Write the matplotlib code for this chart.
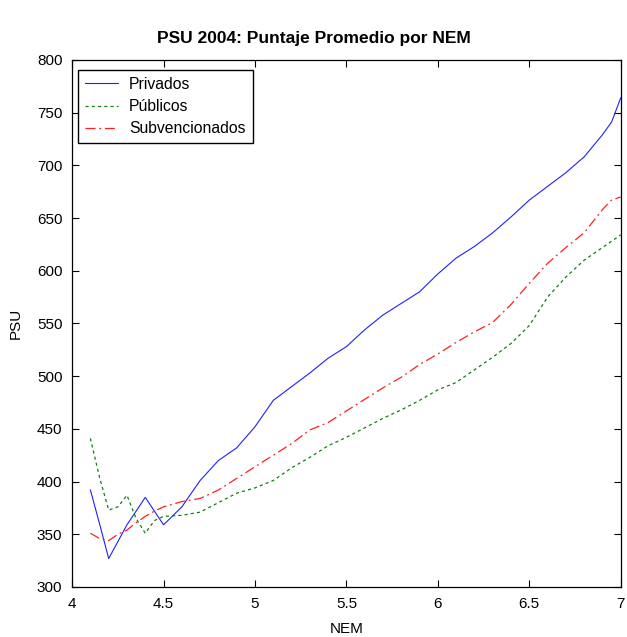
import numpy as np
import matplotlib
matplotlib.use('Agg')
from matplotlib import pyplot as plt

matplotlib.rc('font', family='Liberation Sans')

# NEM (notas de enseñanza media)
nem = [4.1, 4.15, 4.2, 4.25, 4.3, 4.35, 4.4, 4.45, 4.5, 4.6, 4.7, 4.8, 4.9,
       5.0, 5.1, 5.2, 5.3, 5.4, 5.5, 5.6, 5.7, 5.8, 5.9, 6.0, 6.1, 6.2,
       6.3, 6.4, 6.5, 6.6, 6.7, 6.8, 6.9, 6.95, 7.0]

privados = [392, 360, 327, 343, 359, 372, 385, 372, 359, 376, 401, 420, 432,
            452, 477, 490, 503, 517, 528, 544, 558, 569, 580, 597, 612, 623,
            636, 651, 667, 680, 693, 708, 729, 741, 764]

publicos = [441, 404, 373, 376, 387, 365, 351, 363, 367, 368, 371, 380, 389,
            394, 401, 413, 423, 434, 442, 451, 460, 468, 477, 487, 494, 506,
            518, 531, 548, 575, 594, 610, 622, 628, 634]

subvencionados = [351, 346, 344, 350, 354, 361, 367, 372, 376, 381, 384, 392, 403,
                  414, 425, 436, 449, 456, 467, 478, 489, 499, 511, 521, 532, 542,
                  551, 568, 588, 607, 622, 636, 658, 667, 670]

fig = plt.figure(figsize=(6.27, 6.37), dpi=100)
ax = fig.add_axes([0.115, 0.0785, 0.875, 0.8275])

ax.plot(nem, privados, '-', color='#2020ff', lw=0.8, label='Privados')
ax.plot(nem, publicos, color='#108010', lw=0.9, dashes=(2.5, 2.5), label='Públicos')
ax.plot(nem, subvencionados, color='#ff2020', lw=0.9, dashes=(8, 3, 1.5, 3), label='Subvencionados')

ax.set_xlim(4, 7)
ax.set_ylim(300, 800)
ax.set_xticks([4, 4.5, 5, 5.5, 6, 6.5, 7])
ax.set_xticklabels(['4', '4.5', '5', '5.5', '6', '6.5', '7'])
ax.set_yticks(np.arange(300, 801, 50))
ax.tick_params(direction='in', top=True, right=True, length=5, labelsize=11, width=0.8)
ax.tick_params(axis='x', pad=7)
ax.tick_params(axis='y', pad=7)
for s in ax.spines.values():
    s.set_linewidth(0.9)

ax.set_xlabel('NEM', fontsize=11, labelpad=8)
ax.set_ylabel('PSU', fontsize=11, labelpad=10)
fig.text(0.5, 0.94, 'PSU 2004: Puntaje Promedio por NEM', fontsize=12.5,
         fontweight='bold', ha='center', va='center')

leg = ax.legend(loc='upper left', bbox_to_anchor=(0.011, 0.981), borderaxespad=0,
                fontsize=11.3, fancybox=False, framealpha=1, edgecolor='black',
                handlelength=2.1, handletextpad=0.7, labelspacing=0.45,
                borderpad=0.45)
leg.get_frame().set_linewidth(1.0)

plt.savefig('out.png', dpi=100)
